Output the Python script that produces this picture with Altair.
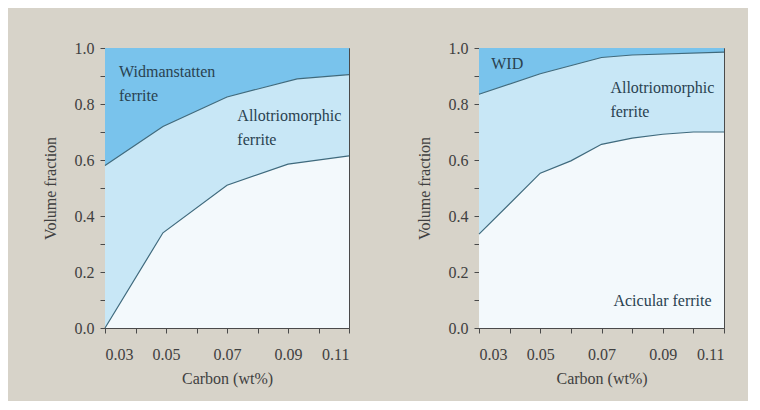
import altair as alt
import pandas as pd

# ---- data ----
left_lower_x = [0.03, 0.049, 0.07, 0.09, 0.11]
left_lower_y = [0.0, 0.34, 0.51, 0.585, 0.615]
left_upper_x = [0.03, 0.049, 0.07, 0.093, 0.11]
left_upper_y = [0.58, 0.72, 0.825, 0.89, 0.905]

right_lower_x = [0.03, 0.05, 0.06, 0.07, 0.08, 0.09, 0.10, 0.11]
right_lower_y = [0.335, 0.553, 0.597, 0.656, 0.678, 0.692, 0.70, 0.70]
right_upper_x = [0.03, 0.05, 0.07, 0.08, 0.11]
right_upper_y = [0.835, 0.908, 0.966, 0.975, 0.985]

left_labels = ["Widmanstatten", "ferrite", "Allotriomorphic", "ferrite"]
left_label_x = [0.0346, 0.0346, 0.0734, 0.0734]
left_label_y = [0.915, 0.827, 0.758, 0.672]

right_labels = ["WID", "Allotriomorphic", "ferrite", "Acicular ferrite"]
right_label_x = [0.034, 0.0729, 0.0729, 0.0739]
right_label_y = [0.943, 0.857, 0.77, 0.096]

x_ticks = [0.03, 0.04, 0.05, 0.06, 0.07, 0.08, 0.09, 0.10, 0.11]
y_ticks = [0.0, 0.1, 0.2, 0.3, 0.4, 0.5, 0.6, 0.7, 0.8, 0.9, 1.0]

DARK = "#79c3ec"
MID = "#c8e7f6"
LIGHT = "#f3f9fc"
EDGE = "#3f6a7d"
TEXT = "#2a4250"
AX = "#404040"
FONT = "Liberation Serif, Times New Roman, serif"
FS = 16

x_enc = alt.X(
    "x:Q",
    scale=alt.Scale(domain=[0.03, 0.11], nice=False, zero=False),
    axis=alt.Axis(
        title="Carbon (wt%)",
        values=x_ticks,
        format=".2f",
        labelExpr="indexof(['0.03','0.05','0.07','0.09','0.11'], datum.label) >= 0 ? datum.label : ''",
        grid=False,
        tickSize=5,
        labelPadding=13,
        titlePadding=8,
    ),
)


def y_enc(field="y"):
    return alt.Y(
        f"{field}:Q",
        scale=alt.Scale(domain=[0, 1], nice=False),
        axis=alt.Axis(
            title="Volume fraction",
            values=y_ticks,
            format=".1f",
            labelExpr="indexof(['0.0','0.2','0.4','0.6','0.8','1.0'], datum.label) >= 0 ? datum.label : ''",
            grid=False,
            tickSize=5,
            labelPadding=6,
            titlePadding=16,
        ),
    )


def panel(lx, ly, ux, uy, labels, tx, ty, w):
    lower = pd.DataFrame({"x": lx, "y": ly})
    upper = pd.DataFrame({"x": ux, "y": uy})
    upper["top"] = 1.0
    upper["zero"] = 0.0
    lower["zero"] = 0.0
    texts = pd.DataFrame({"x": tx, "y": ty, "t": labels})

    top_area = alt.Chart(upper).mark_area(color=DARK, opacity=1).encode(
        x=x_enc, y=y_enc("top"), y2="y"
    )
    mid_area = alt.Chart(upper).mark_area(color=MID, opacity=1).encode(
        x=x_enc, y=y_enc("y"), y2="zero"
    )
    low_area = alt.Chart(lower).mark_area(color=LIGHT, opacity=1).encode(
        x=x_enc, y=y_enc("y"), y2="zero"
    )
    up_line = alt.Chart(upper).mark_line(color=EDGE, strokeWidth=1.2).encode(
        x=x_enc, y=y_enc("y")
    )
    low_line = alt.Chart(lower).mark_line(color=EDGE, strokeWidth=1.2).encode(
        x=x_enc, y=y_enc("y")
    )
    txt = alt.Chart(texts).mark_text(
        align="left", baseline="middle", font=FONT, fontSize=FS, color=TEXT
    ).encode(x=x_enc, y=y_enc("y"), text="t:N")
    return alt.layer(top_area, mid_area, low_area, up_line, low_line, txt).properties(
        width=w, height=280
    )


left = panel(left_lower_x, left_lower_y, left_upper_x, left_upper_y,
             left_labels, left_label_x, left_label_y, 244)
right = panel(right_lower_x, right_lower_y, right_upper_x, right_upper_y,
              right_labels, right_label_x, right_label_y, 245)

chart = (
    alt.hconcat(left, right, spacing=63)
    .properties(
        background="#d7d3c9",
        padding={"left": 33, "top": 31, "right": 21, "bottom": 14},
    )
    .configure_view(stroke="#4a4a4a", strokeWidth=1)
    .configure_axis(
        labelFont=FONT,
        titleFont=FONT,
        labelFontSize=FS,
        titleFontSize=FS,
        titleFontWeight="normal",
        labelColor=AX,
        titleColor=AX,
        domainColor="#4a4a4a",
        tickColor="#4a4a4a",
    )
)

chart.save("out.html", embed_options={"renderer": "svg", "actions": False})
